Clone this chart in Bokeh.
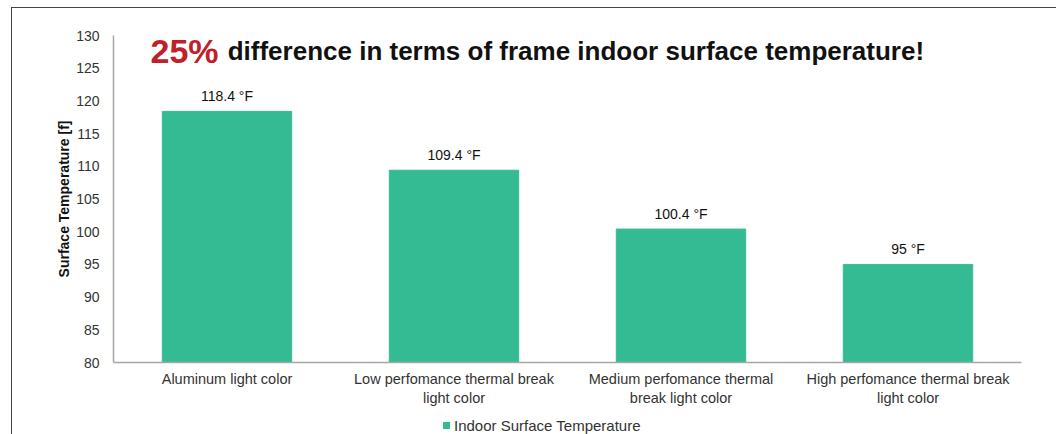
from bokeh.plotting import figure
from bokeh.models import ColumnDataSource, Label, FactorRange, Range1d, FixedTicker, LabelSet, Div
from bokeh.layouts import column
from bokeh.core.properties import value
from bokeh.embed import file_html
from bokeh.resources import INLINE

categories = ["Aluminum light color",
              "Low perfomance thermal break\nlight color",
              "Medium perfomance thermal\nbreak light color",
              "High perfomance thermal break\nlight color"]
temps = [118.4, 109.4, 100.4, 95.0]
value_labels = ["118.4 °F", "109.4 °F", "100.4 °F", "95 °F"]
y_ticks = [80, 85, 90, 95, 100, 105, 110, 115, 120, 125, 130]
series_name = "Indoor Surface Temperature"

FONT = "Liberation Sans"
BAR = "#35BB93"

src = ColumnDataSource(dict(cat=categories, t=temps, lab=value_labels))

p = figure(width=1045, height=409, x_range=FactorRange(*categories, range_padding=0),
           y_range=Range1d(80, 130), output_backend="svg", toolbar_location=None,
           min_border_left=101, min_border_right=36, min_border_top=27, min_border_bottom=55)
p.outline_line_color = None
p.grid.visible = False
p.margin = 0

r = p.vbar(x="cat", top="t", bottom=80, width=0.57, source=src, color=BAR)

labels = LabelSet(x="cat", y="t", text="lab", source=src, text_align="center",
                  text_baseline="bottom", y_offset=7, text_font=value(FONT),
                  text_font_size="14px", text_color="#111111")
p.add_layout(labels)

# axes
p.yaxis.ticker = FixedTicker(ticks=y_ticks)
for ax in (p.xaxis[0], p.yaxis[0]):
    ax.axis_line_color = "#A6A6A6"
    ax.axis_line_width = 1.5
    ax.major_tick_line_color = None
    ax.minor_tick_line_color = None
    ax.major_label_text_font = FONT
    ax.major_label_text_font_size = "14.5px"
    ax.major_label_text_color = "#333333"
p.yaxis.major_label_text_font_size = "14px"
p.yaxis.major_label_standoff = 8
p.xaxis.major_label_standoff = 2
p.yaxis.axis_label = "Surface Temperature [f]"
p.yaxis.axis_label_text_font = FONT
p.yaxis.axis_label_text_font_size = "14px"
p.yaxis.axis_label_text_font_style = "bold"
p.yaxis.axis_label_text_color = "#111111"
p.yaxis.axis_label_standoff = 1

# headline
p.add_layout(Label(x=0.163, y=127.6, text="25%", text_font=FONT, text_font_size="34px",
                   text_font_style="bold", text_color="#C0202A", text_baseline="alphabetic"))
p.add_layout(Label(x=0.503, y=127.6, text="difference in terms of frame indoor surface temperature!",
                   text_font=FONT, text_font_size="26px", text_font_style="bold",
                   text_color="#111111", text_baseline="alphabetic"))

legend_html = (
    '<div style="padding-left:431px;white-space:nowrap;line-height:16px;margin:0;">'
    f'<span style="display:inline-block;width:7px;height:7px;background:{BAR};'
    'margin-right:4px;vertical-align:middle;"></span>'
    f'<span style="font-family:\'{FONT}\';font-size:15px;color:#333333;vertical-align:middle;">'
    f'{series_name}</span></div>'
)
leg = Div(text=legend_html, width=1045, height=17, margin=0)

layout = column(p, leg, spacing=0)
layout.margin = (7, 0, 0, 11)
layout.styles = {"border-left": "1px solid #444", "border-top": "1px solid #444"}

open("out.html", "w").write(file_html(layout, INLINE))
